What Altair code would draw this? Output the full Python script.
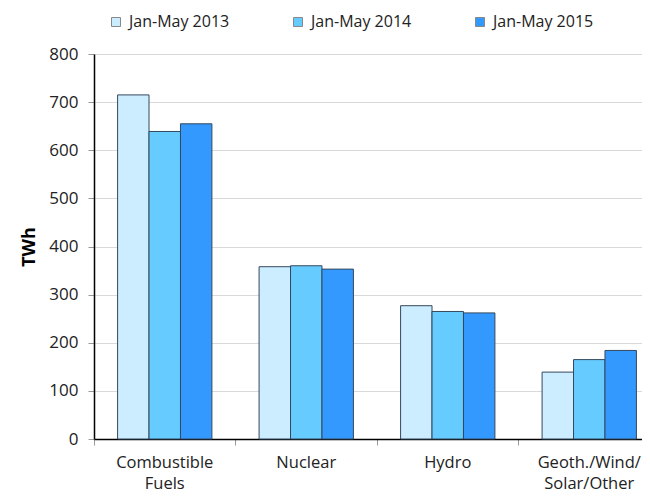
import altair as alt
import pandas as pd

categories = ["Combustible Fuels", "Nuclear", "Hydro", "Geoth./Wind/Solar/Other"]
series = ["Jan-May 2013", "Jan-May 2014", "Jan-May 2015"]
v2013 = [715, 358, 277, 139]
v2014 = [639, 360, 265, 165]
v2015 = [655, 353, 262, 184]
colors = ["#CCECFF", "#66CCFF", "#3399FF"]

rows = []
for i, c in enumerate(categories):
    for s, vals in zip(series, [v2013, v2014, v2015]):
        rows.append({"cat": c, "series": s, "twh": vals[i]})
df = pd.DataFrame(rows)

FONT = "Open Sans"

label_expr = ("datum.label == 'Combustible Fuels' ? ['Combustible', 'Fuels'] : "
              "datum.label == 'Geoth./Wind/Solar/Other' ? ['Geoth./Wind/', 'Solar/Other'] : datum.label")

chart = alt.Chart(df).mark_bar(stroke="#34495e", strokeWidth=1).encode(
    x=alt.X("cat:N", sort=categories, title=None,
            scale=alt.Scale(range=[0, 566], paddingInner=0, paddingOuter=0),
            axis=alt.Axis(labelAngle=0, bandPosition=0, labelExpr=label_expr,
                          labelFontSize=16.5, labelColor="#222", labelFont=FONT,
                          labelPadding=9, labelLineHeight=21,
                          domainColor="#000", domainWidth=1.5,
                          tickColor="#999", tickSize=6, grid=False)),
    xOffset=alt.XOffset("series:N", sort=series,
                        scale=alt.Scale(paddingInner=0, paddingOuter=0.75)),
    y=alt.Y("twh:Q", title="TWh",
            scale=alt.Scale(domain=[0, 800]),
            axis=alt.Axis(values=list(range(0, 801, 100)), labelFontSize=17,
                          labelColor="#222", labelFont=FONT, labelPadding=10,
                          tickColor="#999", tickSize=6,
                          domainColor="#000", domainWidth=1.5,
                          gridColor="#d9d9d9", gridWidth=1,
                          titleFont=FONT, titleFontSize=18, titleFontWeight="bold",
                          titleColor="#000", titlePadding=10)),
    color=alt.Color("series:N", sort=series,
                    scale=alt.Scale(domain=series, range=colors),
                    legend=alt.Legend(title=None, orient="none", direction="horizontal",
                                      legendX=14, legendY=-40,
                                      symbolType="square", symbolSize=81,
                                      symbolStrokeColor="#888", symbolStrokeWidth=1,
                                      labelFontSize=16, labelFont=FONT, labelColor="#222",
                                      labelOffset=5, columnPadding=60)),
).properties(
    width=548, height=385,
    autosize=alt.AutoSizeParams(type="none"),
    padding={"left": 86, "top": 46, "right": 0, "bottom": 54},
).configure_view(stroke=None)

chart.save("out.html", embed_options={"renderer": "svg", "actions": False})
